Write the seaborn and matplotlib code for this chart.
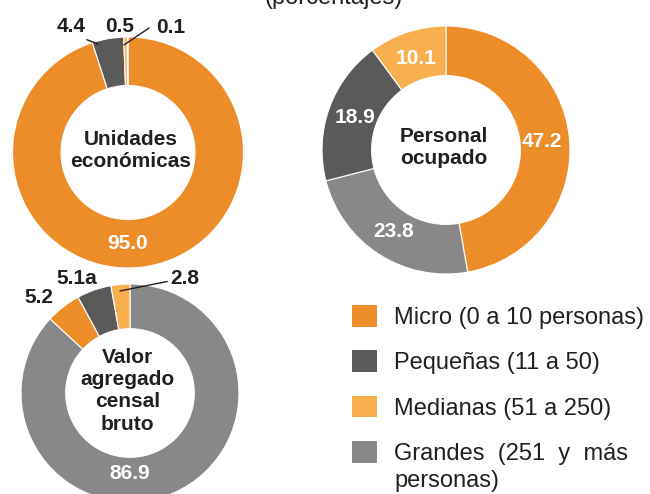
import matplotlib
matplotlib.use("Agg")
import numpy as np
import matplotlib.pyplot as plt
import seaborn as sns
from matplotlib.patches import Patch

sns.set_theme(style="white")
plt.rcParams["font.family"] = ["Liberation Sans", "DejaVu Sans"]

# ---------------- data ----------------
categories = ["Micro (0 a 10 personas)", "Pequeñas (11 a 50)",
              "Medianas (51 a 250)", "Grandes  (251  y  más"]
category_wrap = "personas)"
colors = ["#ED8D29", "#5A5A59", "#F8B04E", "#888888"]

# values in category order: Micro, Pequeñas, Medianas, Grandes
unidades = [95.0, 4.4, 0.5, 0.1]
personal = [47.2, 18.9, 10.1, 23.8]
valor = [5.2, 5.1, 2.8, 86.9]
valor_labels = ["5.2", "5.1a", "2.8", "86.9"]

# clockwise slice order starting at 12 o'clock
order_unidades = [0, 1, 2, 3]
order_personal = [0, 3, 1, 2]
order_valor = [3, 0, 1, 2]

titles = ["Unidades\neconómicas", "Personal\nocupado", "Valor\nagregado\ncensal\nbruto"]

W, H = 650, 494
fig = plt.figure(figsize=(W / 100, H / 100), dpi=100)
fig.patch.set_facecolor("white")


def donut(cx, cy, r, width, values, order):
    ax = fig.add_axes([(cx - r) / W, (H - cy - r) / H, 2 * r / W, 2 * r / H])
    vals = [values[i] for i in order]
    cols = [colors[i] for i in order]
    wedges, _ = ax.pie(vals, colors=cols, startangle=90, counterclock=False,
                       radius=1, wedgeprops=dict(width=width, edgecolor="white",
                                                 linewidth=0.8))
    ax.set_xlim(-1, 1)
    ax.set_ylim(-1, 1)
    ax.set_aspect("equal")
    ax.axis("off")
    return ax, wedges


def inner_label(ax, wedge, text, r, angle=None):
    a = np.deg2rad((wedge.theta1 + wedge.theta2) / 2 if angle is None else angle)
    ax.text(r * np.cos(a), r * np.sin(a), text, ha="center", va="center",
            color="white", fontsize=15, fontweight="bold", clip_on=False)


txt_kw = dict(fontsize=15, fontweight="bold", color="#231F20", ha="center",
              va="center", linespacing=1.22)
ann_kw = dict(fontsize=15, fontweight="bold", color="#231F20", ha="center",
              va="center", annotation_clip=False)
line = dict(arrowstyle="-", color="#231F20", lw=1.0, shrinkA=0, shrinkB=0)

# ---- Donut 1: Unidades económicas ----
ax1, w1 = donut(128, 152.5, 115.5, 0.42, unidades, order_unidades)
inner_label(ax1, w1[0], f"{unidades[0]:.1f}", 0.79, angle=-90)
ax1.text(0.02, 0.02, titles[0], **txt_kw)
ax1.annotate(f"{unidades[1]:.1f}", xy=(-0.26, 0.94), xytext=(-0.494, 1.087),
             arrowprops=dict(line, relpos=(0.75, 0.0)), **ann_kw)
ax1.annotate(f"{unidades[2]:.1f}", xy=(-0.052, 0.974), xytext=(-0.074, 1.087),
             arrowprops=dict(line, relpos=(0.6, 0.0)), **ann_kw)
ax1.annotate(f"{unidades[3]:.1f}", xy=(-0.035, 0.931), xytext=(0.372, 1.078),
             arrowprops=dict(line, relpos=(-0.25, 0.5)), **ann_kw)

# ---- Donut 2: Personal ocupado ----
ax2, w2 = donut(446, 150, 124, 0.40, personal, order_personal)
for wdg, idx in zip(w2, order_personal):
    inner_label(ax2, wdg, f"{personal[idx]:.1f}", 0.78)
ax2.text(-0.02, 0.02, titles[1], **txt_kw)

# ---- Donut 3: Valor agregado censal bruto ----
ax3, w3 = donut(130, 393, 109, 0.41, valor, order_valor)
inner_label(ax3, w3[0], valor_labels[3], 0.74, angle=-90)
ax3.text(-0.02, 0.02, titles[2], **txt_kw)
ax3.text(-0.835, 0.876, valor_labels[0], clip_on=False, **txt_kw)
ax3.text(-0.486, 1.05, valor_labels[1], clip_on=False, **txt_kw)
ax3.annotate(valor_labels[2], xy=(-0.092, 0.936), xytext=(0.505, 1.05),
             arrowprops=dict(line, relpos=(-0.1, 0.35)), **ann_kw)

# ---- title (partially cut at top, as in the reference) ----
fig.text(334 / W, 1 - 4 / H, "(porcentajes)", ha="center", va="baseline",
         fontsize=17, color="#231F20")

# ---- legend ----
handles = [Patch(facecolor=c, edgecolor="none") for c in colors]
leg = fig.legend(handles, categories, loc="upper left",
                 bbox_to_anchor=(352 / W, 1 - 305 / H), frameon=False,
                 fontsize=17, handlelength=1.05, handleheight=1.05,
                 handletextpad=0.75, labelspacing=0.9, labelcolor="#231F20",
                 borderpad=0, borderaxespad=0)

fig.canvas.draw()
last = leg.texts[-1]
x_px, y_px = last.get_transform().transform(last.get_position())
fig.text(x_px / W, (y_px - 27) / H, category_wrap, ha="left", va="baseline",
         fontsize=17, color="#231F20")

fig.savefig("out.png", dpi=100, facecolor="white")
